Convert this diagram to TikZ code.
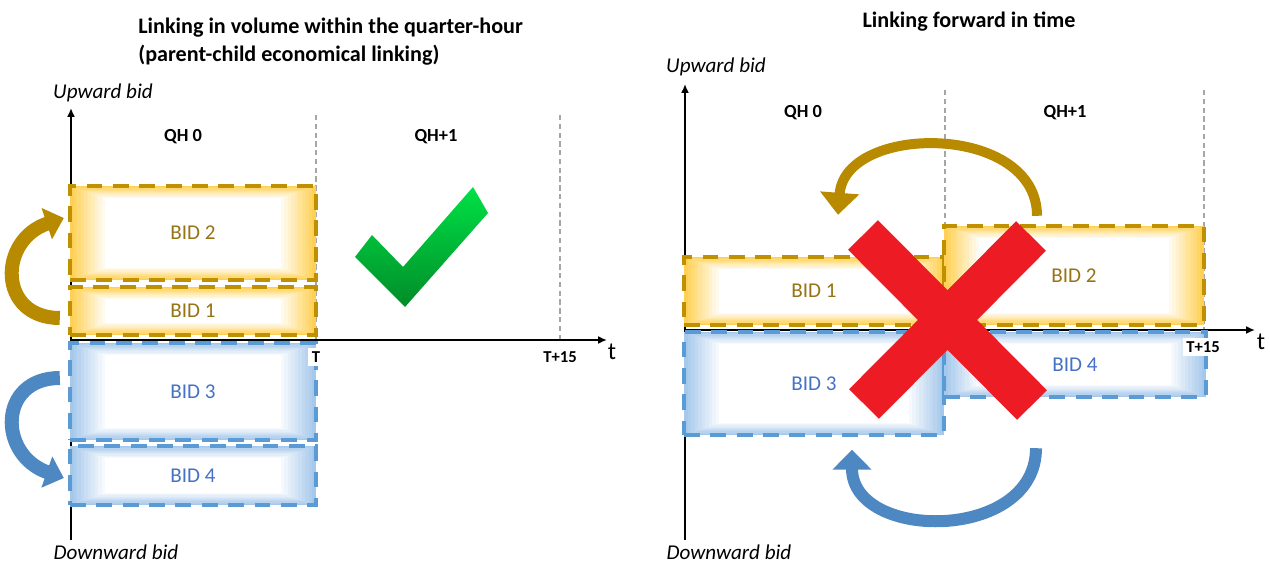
\documentclass[tikz,border=0pt]{standalone}
\usepackage{fontspec}
\setmainfont{Carlito}
\usetikzlibrary{arrows.meta,calc}

\definecolor{goldline}{RGB}{191,144,0}
\definecolor{goldglow}{RGB}{255,208,85}
\definecolor{goldtext}{RGB}{150,115,20}
\definecolor{goldarr}{RGB}{184,138,0}
\definecolor{blueline}{RGB}{91,155,213}
\definecolor{blueglow}{RGB}{165,200,235}
\definecolor{bluetext}{RGB}{68,114,196}
\definecolor{bluearr}{RGB}{78,136,194}
\definecolor{checktop}{RGB}{0,225,70}
\definecolor{checkbot}{RGB}{0,140,40}
\definecolor{xred}{RGB}{237,28,36}

\begin{document}
\begin{tikzpicture}[x=0.02cm, y=-0.02cm,
    title/.style={font=\fontsize{12.6}{15.5}\selectfont\bfseries},
    axlabel/.style={font=\fontsize{12}{14}\selectfont\itshape},
    qh/.style={font=\fontsize{10.5}{12}\selectfont\bfseries},
    tick/.style={font=\fontsize{9.5}{11}\selectfont\bfseries, inner sep=2pt},
    tname/.style={font=\fontsize{14}{16}\selectfont},
    axis/.style={-{Latex[length=5pt,width=4.5pt]}, line width=1.1pt},
    guide/.style={draw=gray!70, dash pattern=on 3pt off 2pt, line width=0.9pt},
    glow/.style={path picture={
        \foreach \i [evaluate=\i as \p using int(100-10*\i)] in {0,...,10}
          \fill[#1!\p!white] ($(path picture bounding box.south west)+(3.5*\i,-1.2*\i)$)
            rectangle ($(path picture bounding box.north east)+(-3.5*\i,1.2*\i)$);}},
    bidbox/.style={draw, dash pattern=on 9pt off 6pt, line width=2.5pt, inner sep=0pt,
                   font=\fontsize{12}{14}\selectfont},
    upbid/.style={bidbox, draw=goldline, text=goldtext, glow=goldglow},
    downbid/.style={bidbox, draw=blueline, text=bluetext, glow=blueglow},
    goldlink/.style={draw=goldarr, line width=#1},
    bluelink/.style={draw=bluearr, line width=#1},
    xbar/.style={draw=xred, line width=0.84cm}
]
\useasboundingbox (0,0) rectangle (1270,567);

% left panel: linking in volume
\node[title, anchor=west, align=left, inner sep=0pt] (ltitle) at (138,41.5) {Linking in volume within the quarter-hour\\(parent-child economical linking)};
\node[axlabel] (lup) at (103,93) {Upward bid};
\node[axlabel] (ldown) at (116,552) {Downward bid};
\node[qh] (lqh0) at (183,137) {QH 0};
\node[qh] (lqh1) at (436,137) {QH+1};

\coordinate (lorig) at (71,340);
\coordinate (lytop) at (71,108);
\coordinate (lybot) at (71,540);
\coordinate (lxend) at (607,340);
\draw[guide] (316,115) -- (316,340);
\draw[guide] (560,115) -- (560,340);
\draw[axis] (lybot) -- (lytop);
\draw[axis] (lorig) -- (lxend);

\node[upbid, minimum width=4.92cm, minimum height=1.88cm] (bid2) at (193,233) {BID 2};
\node[upbid, minimum width=4.92cm, minimum height=0.96cm] (bid1) at (193,311) {BID 1};
\node[downbid, minimum width=4.92cm, minimum height=1.94cm] (bid3) at (193,391.5) {BID 3};
\node[downbid, minimum width=4.92cm, minimum height=1.18cm] (bid4) at (193,475.5) {BID 4};

\node[tick, fill=white] (lt) at (316,357) {T};
\node[tick] (lt15) at (560,357) {T+15};
\node[tname] (ltt) at (612,352) {t};

\draw[goldlink=0.28cm, -{Triangle[length=0.36cm,width=0.64cm]}]
  ([shift={(-8,7)}]bid1.west) .. controls +(-62,0) and +(-66,22) .. ([shift={(-4,-15)}]bid2.west);
\draw[bluelink=0.28cm, -{Triangle[length=0.36cm,width=0.64cm]}]
  ([shift={(-8,-13.5)}]bid3.west) .. controls +(-62,0) and +(-66,-23) .. ([shift={(-4,2.5)}]bid4.west);

\shade[top color=checktop, bottom color=checkbot]
  (355,257) -- (372,235) -- (403,267) -- (473,187) -- (488,213) -- (405,307) -- cycle;

% right panel: linking forward in time
\node[title] (rtitle) at (969,22) {Linking forward in time};
\node[axlabel] (rup) at (716,67) {Upward bid};
\node[axlabel] (rdown) at (729,552) {Downward bid};
\node[qh] (rqh0) at (803,113) {QH 0};
\node[qh] (rqh1) at (1065,113) {QH+1};

\coordinate (rorig) at (685,330);
\coordinate (rytop) at (685,84);
\coordinate (rybot) at (685,540);
\coordinate (rxend) at (1255,330);
\draw[guide] (945,90) -- (945,330);
\draw[guide] (1204,90) -- (1204,330);
\draw[axis] (rybot) -- (rytop);
\draw[axis] (rorig) -- (rxend);

\node[upbid, minimum width=5.2cm, minimum height=1.36cm] (rbid1) at (814,291) {BID 1};
\node[upbid, minimum width=5.2cm, minimum height=1.98cm] (rbid2) at (1074,275.5) {BID 2};
\node[downbid, minimum width=5.2cm, minimum height=2.06cm] (rbid3) at (814,383.5) {BID 3};
\node[downbid, minimum width=5.24cm, minimum height=1.3cm] (rbid4) at (1075,364.5) {BID 4};

\node[tick, fill=white] (rt15) at (1203,347) {T+15};
\node[tname] (rtt) at (1261,342) {t};

\draw[goldlink=0.2cm, -{Triangle[length=0.44cm,width=0.76cm]}]
  ([shift={(-37,-8)}]rbid2.north) .. controls +(0,-93) and +(7,-92) .. ([shift={(24,-40)}]rbid1.north);
\draw[bluelink=0.24cm, -{Triangle[length=0.4cm,width=0.76cm]}]
  ([shift={(-39,49)}]rbid4.south) .. controls +(0,94) and +(0,92) .. ([shift={(38,12.5)}]rbid3.south);

\draw[xbar] (863,235) -- (1032,405);
\draw[xbar] (1031,236) -- (864,404);
\end{tikzpicture}
\end{document}
